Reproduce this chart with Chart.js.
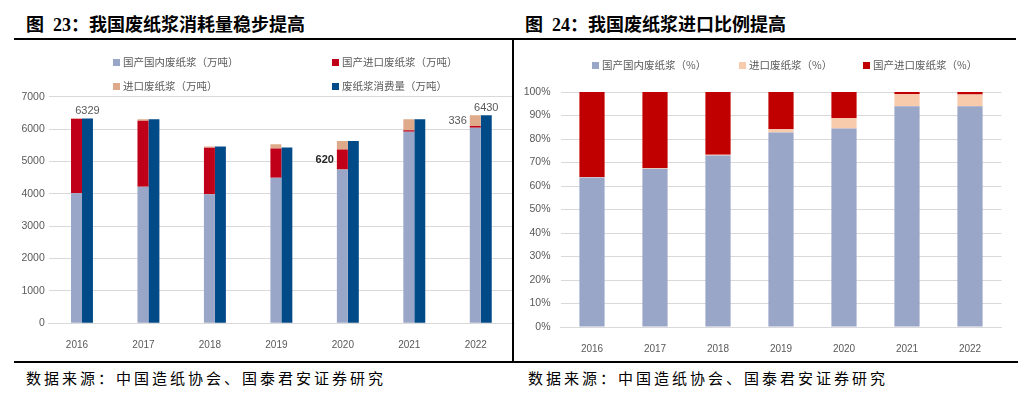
<!DOCTYPE html>
<html>
<head>
<meta charset="utf-8">
<script src="https://cdn.jsdelivr.net/npm/chart.js@4.4.0/dist/chart.umd.min.js"></script>
<style>
body { margin: 0; width: 1018px; height: 395px; background: #fff; position: relative; overflow: hidden; font-family: "Noto Sans CJK SC", sans-serif; }
.title { position: absolute; top: 15px; line-height: 20px; font-family: "Liberation Serif", "Noto Sans CJK SC", serif; font-weight: bold; font-size: 18px; color: #000; white-space: nowrap; }
.line { position: absolute; background: #000; z-index: 5; }
.src { position: absolute; top: 369px; line-height: 18px; font-size: 15px; letter-spacing: 3px; color: #000; white-space: nowrap; }
.lg { position: absolute; font-size: 10.5px; line-height: 14px; color: #595959; white-space: nowrap; }
.lg i { display: inline-block; width: 7px; height: 7px; margin-right: 3px; vertical-align: 0px; }
canvas { position: absolute; }
</style>
</head>
<body>
<div class="title" style="left:26px">图&nbsp; 23：我国废纸浆消耗量稳步提高</div>
<div class="title" style="left:525px">图&nbsp; 24：我国废纸浆进口比例提高</div>
<div class="line" style="left:14px;top:38px;width:1002px;height:2px"></div>
<div class="line" style="left:512px;top:39px;width:2px;height:323px"></div>
<div class="line" style="left:14px;top:361px;width:1004px;height:2px"></div>
<div class="src" style="left:26px">数据来源：中国造纸协会、国泰君安证券研究</div>
<div class="src" style="left:528px">数据来源：中国造纸协会、国泰君安证券研究</div>

<canvas id="volChart" width="501" height="320" style="left:14px;top:41px"></canvas>
<canvas id="shareChart" width="504" height="320" style="left:514px;top:41px"></canvas>
<div id="volLegend"></div>
<div id="shareLegend"></div>

<script>
// ------------------ 数据 ------------------
const years = ['2016', '2017', '2018', '2019', '2020', '2021', '2022'];

// 图23 (万吨)
const domestic = [4020, 4220, 3990, 4500, 4750, 5920, 6040];
const importedDomestic = [2300, 2040, 1430, 900, 620, 45, 54];
const importedPulp = [10, 42, 40, 130, 260, 340, 336];
const consumption = [6329, 6302, 5460, 5430, 5630, 6300, 6430];
const volTicks = [0, 1000, 2000, 3000, 4000, 5000, 6000, 7000];

// which bars carry a value label
const consumptionTagged = [0, 6];
const importedDomesticTagged = [4];
const importedPulpTagged = [6];

// 图24 (%)
const shareDomestic = [63.6, 67.3, 73.0, 82.8, 84.5, 93.9, 93.9];
const shareImported = [0.2, 0.4, 0.3, 1.4, 4.3, 5.2, 5.0];
const shareImportedDomestic = [36.2, 32.3, 26.7, 15.8, 11.2, 0.9, 1.1];

// ------------------ 样式 ------------------
const gray = '#595959';
const gridColor = '#D9D9D9';
const tickFont = { family: 'Liberation Sans', size: 10.5 };

// ------------------ 数值标签 ------------------
const valueTags = {
    id: 'valueTags',
    afterDatasetsDraw(chart) {
        const ctx = chart.ctx;
        chart.data.datasets.forEach((ds, di) => {
            if (!ds.tags) return;
            const meta = chart.getDatasetMeta(di);
            ds.tags.idx.forEach(i => {
                const bar = meta.data[i];
                ctx.save();
                ctx.font = (ds.tags.bold ? 'bold ' : '') + '11px "Liberation Sans"';
                ctx.fillStyle = ds.tags.bold ? '#262626' : gray;
                if (ds.tags.at === 'top') {
                    ctx.textAlign = 'center';
                    ctx.textBaseline = 'bottom';
                    ctx.fillText(ds.data[i], bar.x, bar.y - 2);
                } else {
                    ctx.textAlign = 'right';
                    ctx.textBaseline = 'middle';
                    ctx.fillText(ds.data[i], bar.x - bar.width / 2 - 3, (bar.y + bar.base) / 2);
                }
                ctx.restore();
            });
        });
    }
};

// ------------------ 图例 ------------------
function buildLegend(el, items) {
    items.forEach(it => {
        const d = document.createElement('div');
        d.className = 'lg';
        d.style.left = it.x + 'px';
        d.style.top = it.y + 'px';
        d.innerHTML = `<i style="background:${it.color}"></i>${it.label}`;
        el.appendChild(d);
    });
}

// ------------------ 图23 ------------------
const volDatasets = [
    { label: '国产国内废纸浆（万吨）', data: domestic, backgroundColor: '#9AA6C8', stack: 'a' },
    { label: '国产进口废纸浆（万吨）', data: importedDomestic, backgroundColor: '#C00018', stack: 'a',
      tags: { idx: importedDomesticTagged, at: 'left', bold: true } },
    { label: '进口废纸浆（万吨）', data: importedPulp, backgroundColor: '#DEAA8A', stack: 'a',
      tags: { idx: importedPulpTagged, at: 'left' } },
    { label: '废纸浆消费量（万吨）', data: consumption, backgroundColor: '#004A87', stack: 'b',
      tags: { idx: consumptionTagged, at: 'top' } }
];

new Chart(document.getElementById('volChart'), {
    type: 'bar',
    data: { labels: years, datasets: volDatasets },
    options: {
        responsive: false,
        animation: false,
        layout: { padding: { top: 55.7, right: 1, bottom: 0, left: 0 } },
        datasets: { bar: { barPercentage: 1, categoryPercentage: 0.33 } },
        plugins: { legend: { display: false }, tooltip: { enabled: false } },
        scales: {
            x: {
                stacked: true,
                grid: { display: false },
                border: { color: gridColor },
                ticks: { color: gray, font: { family: 'Liberation Sans', size: 10 }, padding: 8, labelOffset: -5, maxRotation: 0 },
                afterFit: s => { s.height = 37.7; }
            },
            y: {
                stacked: true,
                min: 0, max: 7000,
                afterBuildTicks: s => { s.ticks = volTicks.map(v => ({ value: v })); },
                grid: { color: gridColor, drawTicks: false },
                border: { display: false },
                ticks: { color: gray, font: tickFont, padding: 4, callback: v => String(v) },
                afterFit: s => { s.width = 34.75; }
            }
        }
    },
    plugins: [valueTags]
});

buildLegend(document.getElementById('volLegend'), [
    { x: 113, y: 55, color: volDatasets[0].backgroundColor, label: volDatasets[0].label },
    { x: 332, y: 55, color: volDatasets[1].backgroundColor, label: volDatasets[1].label },
    { x: 113, y: 79, color: volDatasets[2].backgroundColor, label: volDatasets[2].label },
    { x: 332, y: 79, color: volDatasets[3].backgroundColor, label: volDatasets[3].label }
]);

// ------------------ 图24 ------------------
const shareDatasets = [
    { label: '国产国内废纸浆（%）', data: shareDomestic, backgroundColor: '#9AA6C8' },
    { label: '进口废纸浆（%）', data: shareImported, backgroundColor: '#F8CBAD' },
    { label: '国产进口废纸浆（%）', data: shareImportedDomestic, backgroundColor: '#C00000' }
];

new Chart(document.getElementById('shareChart'), {
    type: 'bar',
    data: { labels: years, datasets: shareDatasets },
    options: {
        responsive: false,
        animation: false,
        layout: { padding: { top: 51, right: 16.5, bottom: 0, left: 0 } },
        datasets: { bar: { barPercentage: 1, categoryPercentage: 0.4 } },
        plugins: { legend: { display: false }, tooltip: { enabled: false } },
        scales: {
            x: {
                stacked: true,
                grid: { display: false },
                border: { color: gridColor },
                ticks: { color: gray, font: { family: 'Liberation Sans', size: 10 }, padding: 8, maxRotation: 0 },
                afterFit: s => { s.height = 34; }
            },
            y: {
                stacked: true,
                min: 0, max: 100,
                grid: { color: gridColor, drawTicks: false },
                border: { display: false },
                ticks: { color: gray, font: tickFont, padding: 10, stepSize: 10, callback: v => v + '%' },
                afterFit: s => { s.width = 46.5; }
            }
        }
    }
});

buildLegend(document.getElementById('shareLegend'), [
    { x: 592, y: 58, color: shareDatasets[0].backgroundColor, label: shareDatasets[0].label },
    { x: 739, y: 58, color: shareDatasets[1].backgroundColor, label: shareDatasets[1].label },
    { x: 863, y: 58, color: shareDatasets[2].backgroundColor, label: shareDatasets[2].label }
]);
</script>
</body>
</html>
